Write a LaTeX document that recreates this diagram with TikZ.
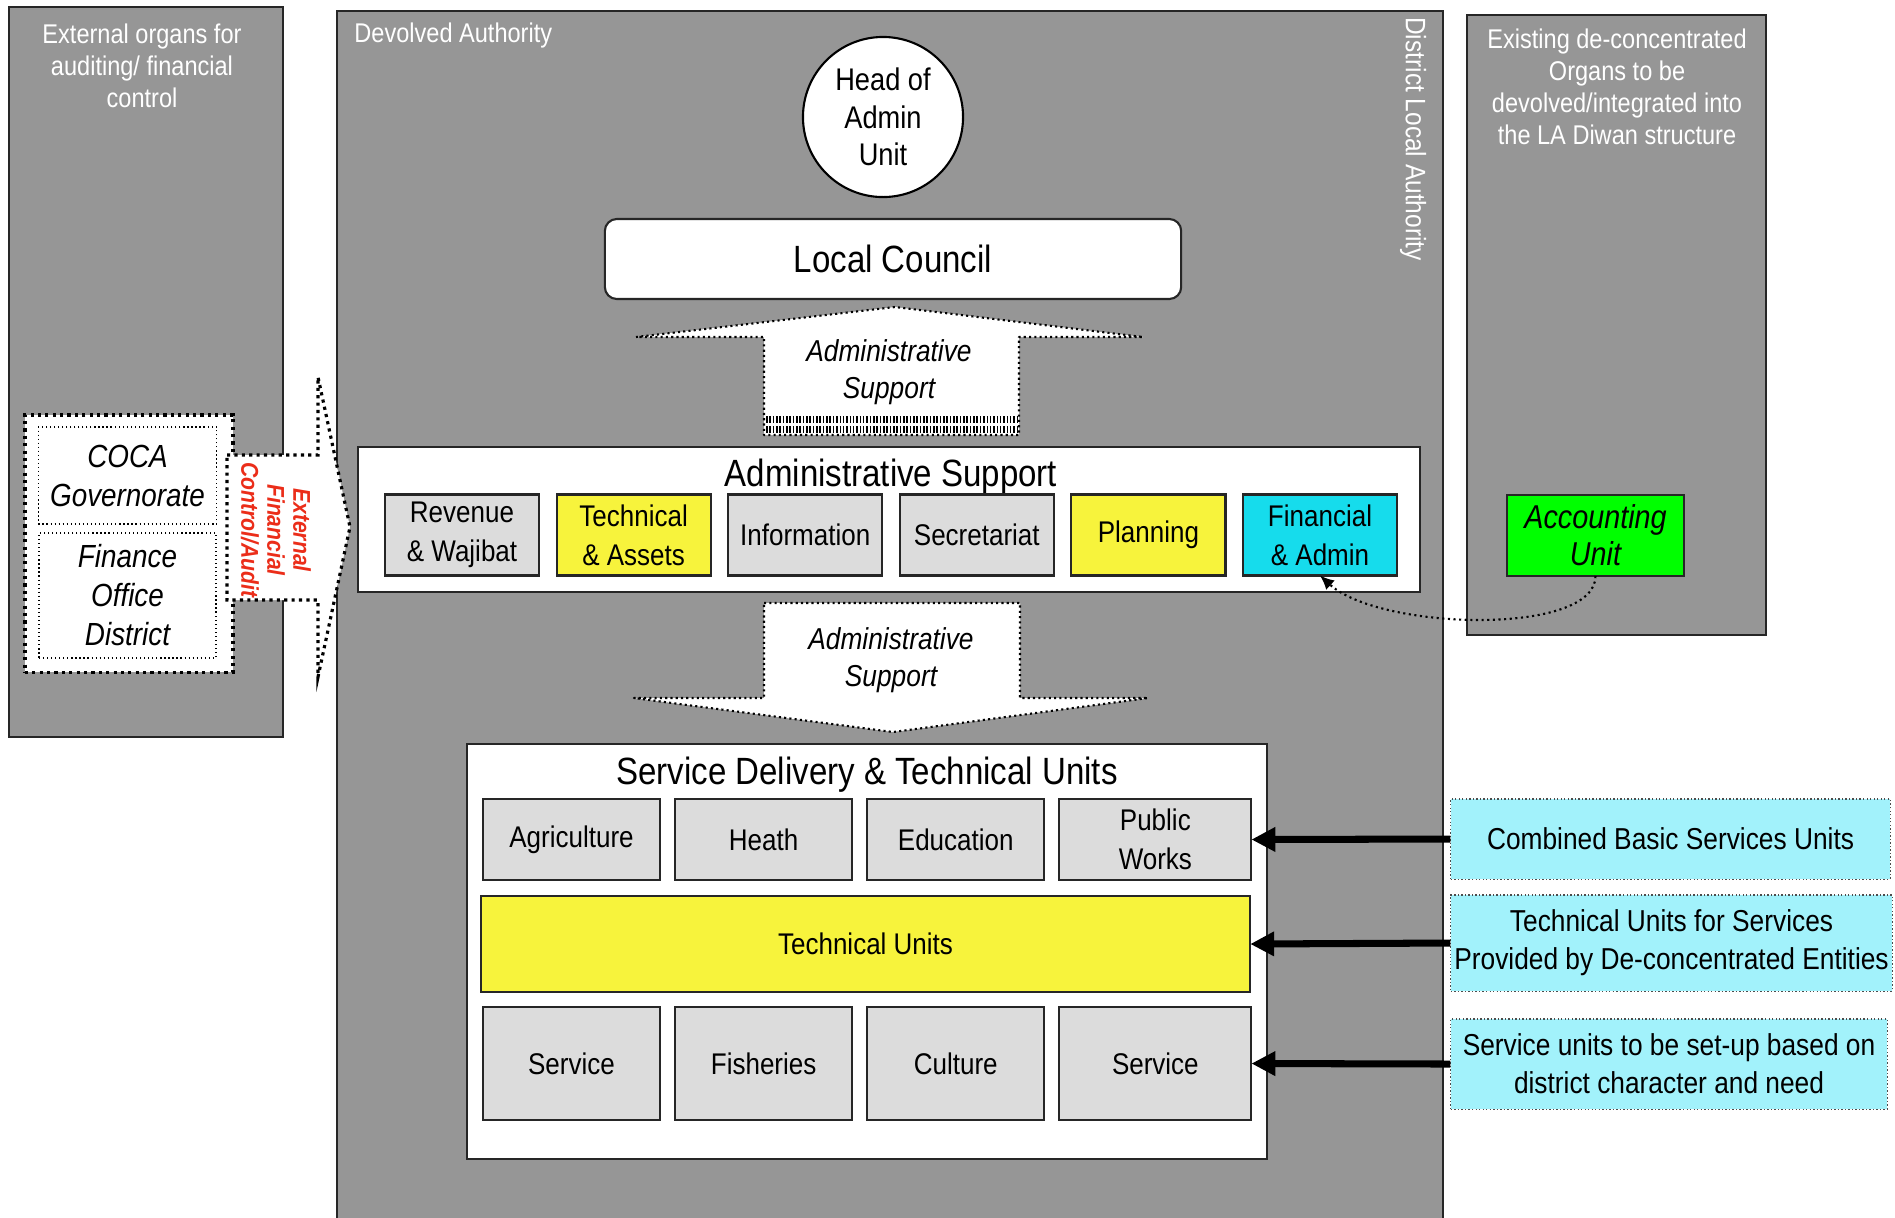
\documentclass[tikz,border=0pt]{standalone}
\usepackage{fontspec}
\setmainfont[FakeStretch=0.87]{Liberation Sans}
\usetikzlibrary{positioning, arrows.meta}

\definecolor{panelgrey}{RGB}{150,150,150}
\definecolor{unitgrey}{RGB}{220,220,220}
\definecolor{unityellow}{RGB}{247,243,60}
\definecolor{unitcyan}{RGB}{22,220,236}
\definecolor{notecyan}{RGB}{162,242,251}
\definecolor{acctgreen}{RGB}{0,255,0}
\definecolor{auditred}{RGB}{235,45,25}

\begin{document}
\begin{tikzpicture}[
    x=0.01cm, y=-0.01cm,
    panel/.style={draw=black!85, line width=0.5pt, fill=panelgrey, inner sep=0pt},
    paneltext/.style={text=white, align=center, font=\fontsize{7.7}{9.1}\selectfont},
    frame/.style={draw=black!85, line width=0.6pt, fill=white, inner sep=0pt},
    title/.style={font=\fontsize{10.8}{12}\selectfont},
    unit/.style={draw=black!85, line width=0.6pt, fill=unitgrey, inner sep=1pt, outer sep=0pt, align=center,
        minimum width=1.54cm, minimum height=0.81cm, font=\fontsize{8.5}{11}\selectfont},
    svc/.style={unit, minimum width=1.77cm},
    note/.style={draw=black!70, line width=0.3pt, dash pattern=on 0.4pt off 0.6pt, fill=notecyan,
        align=center, inner sep=1pt, font=\fontsize{8.6}{10.8}\selectfont},
    bigdots/.style={line width=0.9pt, dash pattern=on 0.9pt off 1.2pt},
    smalldots/.style={line width=0.35pt, dash pattern=on 0.35pt off 0.8pt},
    support/.style={fill=white, draw=black, line width=0.6pt, dash pattern=on 0.6pt off 0.9pt, line join=round},
    supporttext/.style={align=center, font=\fontsize{8.6}{10.5}\selectfont\itshape},
    orgtext/.style={align=center, font=\fontsize{9.1}{11.1}\selectfont\itshape},
    feed/.style={line width=2pt, -{Triangle[length=6.8pt, width=6.6pt]}}
]
\useasboundingbox (0,0) rectangle (1895,1217);

% panels
\node[panel, minimum width=2.74cm, minimum height=7.30cm] (ext) at (146,372) {};
\node[panel, minimum width=11.06cm, minimum height=12.20cm] (dev) at (890,621) {};
\node[panel, minimum width=2.99cm, minimum height=6.20cm] (dec) at (1616.5,325) {};

\node[paneltext] (extlbl) at (142,66) {External organs for\\auditing/ financial\\control};
\node[paneltext, anchor=west] (devlbl) at (342,35) {Devolved Authority};
\node[paneltext, rotate=-90, font=\fontsize{8}{9.1}\selectfont] (dla) at (1413,139) {District Local Authority};
\node[paneltext] (declbl) at (1617,87) {Existing de-concentrated\\Organs to be\\devolved/integrated into\\the LA Diwan structure};

% head and council
\node[circle, draw=black, line width=0.6pt, fill=white, minimum size=1.6cm, inner sep=0pt, align=center,
    font=\fontsize{8.9}{10.7}\selectfont] (head) at (883,117) {Head of\\Admin\\Unit};
\node[frame, rounded corners=0.12cm, minimum width=5.76cm, minimum height=0.80cm, title] (lc) at (893,259) {Local Council};

% upward support arrow
\draw[support] (636,337) -- (895,307) -- (1143,337) -- (1019,337) -- (1019,435) -- (764,435) -- (764,337) -- cycle;
\draw[line width=2.2pt, dash pattern=on 0.45pt off 0.5pt] (766,419.5) -- (1017,419.5);
\draw[line width=2.2pt, dash pattern=on 0.45pt off 0.5pt] (766,429.5) -- (1017,429.5);
\node[supporttext] (upsup) at (889,372) {Administrative\\Support};

% administrative support
\node[frame, minimum width=10.62cm, minimum height=1.45cm] (adm) at (889,519.5) {};
\node[title] (admt) at (891,477) {Administrative Support};
\node[unit] (rev) at (462,535) {Revenue\\\& Wajibat};
\node[unit, fill=unityellow, right=0.175cm of rev] (tech) {Technical\\\& Assets};
\node[unit, right=0.175cm of tech] (info) {Information};
\node[unit, right=0.175cm of info] (sec) {Secretariat};
\node[unit, fill=unityellow, right=0.175cm of sec] (plan) {Planning};
\node[unit, fill=unitcyan, right=0.175cm of plan] (fin) {Financial\\\& Admin};

% downward support arrow
\draw[support] (764,603) -- (1020,603) -- (1020,698) -- (1148,698) -- (893,732) -- (634,698) -- (764,698) -- cycle;
\node[supporttext] (dnsup) at (891,660) {Administrative\\Support};

% service delivery
\node[frame, minimum width=8.00cm, minimum height=4.15cm] (sdu) at (867,951.5) {};
\node[title] (sdut) at (867,775) {Service Delivery \& Technical Units};
\node[svc] (agr) at (571.5,839.5) {Agriculture};
\node[svc, right=0.15cm of agr] (heath) {Heath};
\node[svc, right=0.15cm of heath] (edu) {Education};
\node[svc, minimum width=1.92cm, right=0.15cm of edu] (pw) {Public\\Works};
\node[unit, fill=unityellow, minimum width=7.69cm, minimum height=0.96cm] (tu) at (865.5,944) {Technical Units};
\node[svc, minimum height=1.13cm] (srvA) at (571.5,1063.5) {Service};
\node[svc, minimum height=1.13cm, right=0.15cm of srvA] (fish) {Fisheries};
\node[svc, minimum height=1.13cm, right=0.15cm of fish] (cult) {Culture};
\node[svc, minimum height=1.13cm, minimum width=1.92cm, right=0.15cm of cult] (srvB) {Service};

% notes on the right
\node[note, minimum width=4.39cm, minimum height=0.80cm] (cbs) at (1670.5,839) {Combined Basic Services Units};
\node[note, minimum width=4.41cm, minimum height=0.96cm] (tus) at (1671.5,943) {Technical Units for Services\\Provided by De-concentrated Entities};
\node[note, minimum width=4.36cm, minimum height=0.90cm] (sus) at (1669,1064) {Service units to be set-up based on\\district character and need};

\draw[feed] (cbs.west) -- (pw.east);
\draw[feed] (tus.west) -- (tu.east);
\draw[feed] (sus.west) -- (srvB.east);

% accounting unit
\node[unit, fill=acctgreen, minimum width=1.77cm, font=\fontsize{9.4}{10.5}\selectfont\itshape] (acct) at (1595.5,535.5) {Accounting\\Unit};
\draw[line width=0.6pt, dash pattern=on 0.6pt off 1pt, -{Latex[length=4pt, width=3.6pt]}]
    (acct.south) .. controls +(0,60) and +(60,55) .. (fin.south);

% external organs
\node[draw, bigdots, fill=white, minimum width=2.08cm, minimum height=2.57cm] (eob) at (129,543.5) {};
\node[draw, smalldots, minimum width=1.77cm, minimum height=0.97cm, orgtext] (coca) at (127.5,475.5) {COCA\\Governorate};
\node[draw, smalldots, minimum width=1.77cm, minimum height=1.13cm, orgtext] (fo) at (127.5,595.5) {Finance\\Office\\District};

\draw[bigdots, fill=white] (227,455) -- (318,455) -- (318,377) -- (350,527) -- (318,677) -- (318,600) -- (227,600) -- cycle;
\node[rotate=-90, text=auditred, align=center, font=\fontsize{6.9}{7.4}\selectfont\bfseries\itshape] (efc) at (276,530) {External\\Financial\\Control/Audit};

\end{tikzpicture}
\end{document}
